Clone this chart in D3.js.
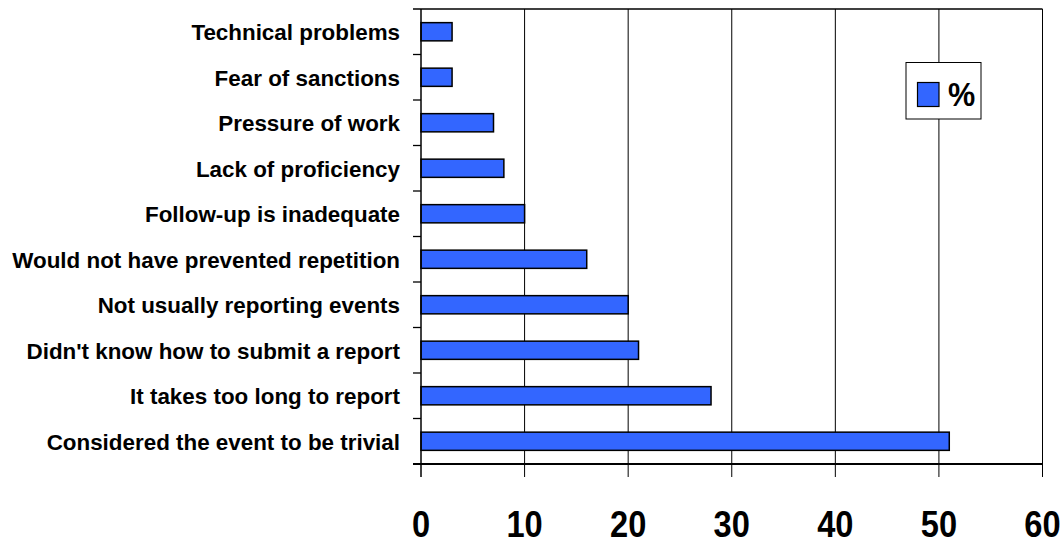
<!DOCTYPE html>
<html><head><meta charset="utf-8">
<script src="https://cdn.jsdelivr.net/npm/d3@7"></script>
<style>body{margin:0;background:#fff;}svg{display:block;}</style>
</head><body>
<svg id="c" width="1060" height="540"></svg>
<script>
const categories = ["Technical problems","Fear of sanctions","Pressure of work","Lack of proficiency","Follow-up is inadequate","Would not have prevented repetition","Not usually reporting events","Didn't know how to submit a report","It takes too long to report","Considered the event to be trivial"];
const values = [3,3,7,8,10,16,20,21,28,51];
const xTicks = [0,10,20,30,40,50,60];
const seriesName = "%";

const svg = d3.select("#c");
const m = {left:421, right:1042.5, top:9, bottom:464};
const font = "'Liberation Sans', Arial, sans-serif";
const sx = 0.87;
const x = d3.scaleLinear().domain([0,60]).range([m.left,m.right]);
const y = d3.scaleBand().domain(categories).range([m.top,m.bottom]).paddingInner(0.6).paddingOuter(0.3);
const band = d3.scaleBand().domain(categories).range([m.top,m.bottom]);

// gridlines
svg.append("g").selectAll("line").data(xTicks.slice(1)).join("line")
  .attr("x1",d=>x(d)).attr("x2",d=>x(d)).attr("y1",m.top).attr("y2",m.bottom+13)
  .attr("stroke","#000").attr("stroke-width",1);
// top line
svg.append("line").attr("x1",m.left-8).attr("x2",m.right).attr("y1",m.top).attr("y2",m.top).attr("stroke","#000").attr("stroke-width",1.3);

// bars
svg.append("g").selectAll("rect").data(values).join("rect")
  .attr("x",x(0)).attr("y",(d,i)=>y(categories[i]))
  .attr("width",d=>x(d)-x(0)).attr("height",y.bandwidth())
  .attr("fill","#3366ff").attr("stroke","#000").attr("stroke-width",1.5);

// y axis
svg.append("line").attr("x1",m.left).attr("x2",m.left).attr("y1",m.top).attr("y2",m.bottom+13).attr("stroke","#000").attr("stroke-width",1.5);
svg.append("g").selectAll("line").data(categories).join("line")
  .attr("x1",m.left-8).attr("x2",m.left).attr("y1",d=>band(d)+band.bandwidth()).attr("y2",d=>band(d)+band.bandwidth())
  .attr("stroke","#000").attr("stroke-width",1.3);
// x axis
svg.append("line").attr("x1",m.left-8).attr("x2",m.right).attr("y1",m.bottom).attr("y2",m.bottom).attr("stroke","#000").attr("stroke-width",2);

// category labels
svg.append("g").selectAll("text").data(categories).join("text")
  .attr("x",400).attr("y",d=>band(d)+band.bandwidth()/2+8.5).attr("text-anchor","end")
  .attr("font-family",font).attr("font-weight","bold").attr("font-size",22.4).attr("fill","#000").text(d=>d);

// tick labels
svg.append("g").selectAll("g").data(xTicks).join("g")
  .attr("transform",d=>`translate(${x(d)},536.5)`)
  .append("text").attr("transform",`scale(${sx},1)`).attr("text-anchor","middle")
  .attr("font-family",font).attr("font-weight","bold").attr("font-size",37.5).attr("fill","#000").text(d=>d);

// legend
const lg = svg.append("g");
lg.append("rect").attr("x",906).attr("y",62.5).attr("width",75).attr("height",56.5).attr("fill","#fff").attr("stroke","#000").attr("stroke-width",1);
lg.append("rect").attr("x",917.5).attr("y",82.5).attr("width",21.5).attr("height",24).attr("fill","#3366ff").attr("stroke","#000").attr("stroke-width",1.2);
lg.append("g").attr("transform","translate(948,106)").append("text").attr("transform",`scale(0.9,1)`)
  .attr("font-family",font).attr("font-weight","bold").attr("font-size",34).attr("fill","#000").text(seriesName);
</script>
</body></html>
